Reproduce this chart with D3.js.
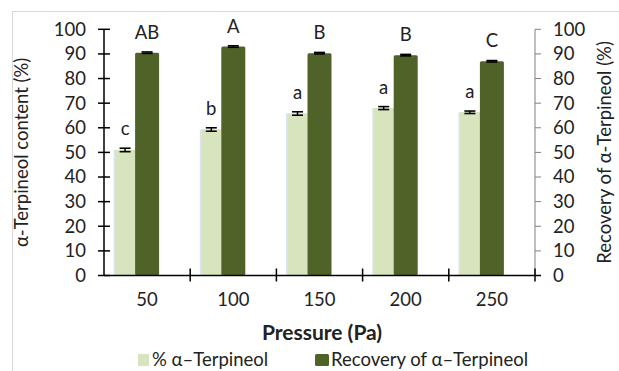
<!DOCTYPE html>
<html><head><meta charset="utf-8">
<script src="https://cdn.jsdelivr.net/npm/d3@7"></script>
<style>body{margin:0;background:#fff}svg{display:block}text{font-family:Lato,"Open Sans",sans-serif}</style>
</head><body><svg id="c" width="619" height="371"></svg>
<script>
const categories = ["50","100","150","200","250"];
const terpineol = [51, 59.3, 65.8, 68, 66.3];
const terpineolErr = [0.7, 0.7, 0.7, 0.6, 0.5];
const terpineolLetters = ["c","b","a","a","a"];
const recovery = [90.5, 93, 90.3, 89.5, 87];
const recoveryErr = [0.3, 0.3, 0.3, 0.3, 0.3];
const recoveryLetters = ["AB","A","B","B","C"];
const yTicks = [0,10,20,30,40,50,60,70,80,90,100];
const seriesNames = ["% α–Terpineol","Recovery of α–Terpineol"];

const svg = d3.select("#c");
const L=104, R=535, T=29.3, B=275.5;
const x = d3.scaleBand().domain(categories).range([L,R]).paddingInner(0).paddingOuter(0);
const y = d3.scaleLinear().domain([0,100]).range([B,T]);
const light="#d7e4bd", dark="#4f6228";
const FS=18.5;

svg.append("rect").attr("x",12.5).attr("y",11.5).attr("width",700).attr("height",500)
  .attr("fill","none").attr("stroke","#d9d9d9").attr("stroke-width",1);

const cx = c => x(c)+x.bandwidth()/2;

const gl = svg.append("g");
categories.forEach((c,i)=>{
  const x0=cx(c)-32, w=20;
  gl.append("rect").attr("x",x0-1.5).attr("y",y(terpineol[i])).attr("width",w+1.5)
    .attr("height",B-y(terpineol[i])).attr("fill","#dbe5f1");
  gl.append("rect").attr("x",x0).attr("y",y(terpineol[i])).attr("width",w)
    .attr("height",B-y(terpineol[i])).attr("fill",light);
  const ex=x0+w/2, y1=y(terpineol[i]+terpineolErr[i]), y2=y(terpineol[i]-terpineolErr[i]);
  gl.append("line").attr("x1",ex).attr("x2",ex).attr("y1",y1).attr("y2",y2).attr("stroke","#000").attr("stroke-width",1.5);
  [y1,y2].forEach(yy=>gl.append("line").attr("x1",ex-5.5).attr("x2",ex+5.5).attr("y1",yy).attr("y2",yy).attr("stroke","#000").attr("stroke-width",1.6));
  gl.append("text").attr("x",ex).attr("y",y1-13).attr("text-anchor","middle").attr("font-size",FS).attr("fill","#222").text(terpineolLetters[i]);
});
const gd = svg.append("g");
categories.forEach((c,i)=>{
  const x0=cx(c)-12, w=24;
  gd.append("rect").attr("x",x0).attr("y",y(recovery[i])).attr("width",w)
    .attr("height",B-y(recovery[i])).attr("fill",dark).attr("rx",1.5);
  const ex=x0+w/2, y1=y(recovery[i]+recoveryErr[i]), y2=y(recovery[i]-recoveryErr[i]);
  gd.append("line").attr("x1",ex).attr("x2",ex).attr("y1",y1).attr("y2",y2).attr("stroke","#000").attr("stroke-width",1.2);
  [y1,y2].forEach(yy=>gd.append("line").attr("x1",ex-5.5).attr("x2",ex+5.5).attr("y1",yy).attr("y2",yy).attr("stroke","#000").attr("stroke-width",1.6));
  gd.append("text").attr("x",ex).attr("y",y(recovery[i])-14).attr("text-anchor","middle").attr("font-size",FS).attr("fill","#222").text(recoveryLetters[i]);
});

const ga = svg.append("g");
ga.append("line").attr("x1",L).attr("x2",L).attr("y1",T).attr("y2",B).attr("stroke","#000").attr("stroke-width",1.5);
yTicks.forEach(t=>{
  ga.append("line").attr("x1",L-6).attr("x2",L+6).attr("y1",y(t)).attr("y2",y(t)).attr("stroke","#000").attr("stroke-width",1.5);
  ga.append("text").attr("x",86).attr("y",y(t)).attr("dy","0.35em").attr("text-anchor","end").attr("font-size",FS).attr("fill","#222").text(t);
});
yTicks.forEach(t=>{
  ga.append("line").attr("x1",R).attr("x2",R+6).attr("y1",y(t)).attr("y2",y(t)).attr("stroke","#808080").attr("stroke-width",1);
  ga.append("text").attr("x",553).attr("y",y(t)).attr("dy","0.35em").attr("text-anchor","start").attr("font-size",FS).attr("fill","#222").text(t);
});
ga.append("line").attr("x1",R).attr("x2",R).attr("y1",T).attr("y2",B).attr("stroke","#808080").attr("stroke-width",1);
ga.append("line").attr("x1",L).attr("x2",R+6).attr("y1",B).attr("y2",B).attr("stroke","#000").attr("stroke-width",1.5);
categories.forEach((c,i)=>{
  const bx = x(c)+x.bandwidth();
  ga.append("line").attr("x1",bx).attr("x2",bx).attr("y1",B-7).attr("y2",B+6).attr("stroke","#000").attr("stroke-width",1.5);
  ga.append("text").attr("x",cx(c)).attr("y",300).attr("dy","0.35em").attr("text-anchor","middle").attr("font-size",FS).attr("fill","#222").text(c);
});

svg.append("text").attr("transform",`translate(22,${(T+B)/2}) rotate(-90)`).attr("dy","0.35em").attr("text-anchor","middle").attr("font-size",FS).attr("fill","#222").text("α-Terpineol content (%)");
svg.append("text").attr("transform",`translate(605,${(T+B)/2}) rotate(-90)`).attr("dy","0.35em").attr("text-anchor","middle").attr("font-size",FS).attr("fill","#222").text("Recovery of α-Terpineol (%)");
svg.append("text").attr("x",322).attr("y",333).attr("dy","0.35em").attr("text-anchor","middle").attr("font-size",21).attr("font-weight","bold").attr("fill","#222").text("Pressure (Pa)");

const lg = svg.append("g");
[[138,light,0],[315,dark,1]].forEach(([lx,col,k])=>{
  lg.append("rect").attr("x",lx).attr("y",354).attr("width",k?14:11).attr("height",12).attr("fill",col).attr("rx",k?1.5:0);
  lg.append("text").attr("x",lx+(k?16:14)).attr("y",360).attr("dy","0.35em").attr("font-size",FS).attr("fill","#222").text(seriesNames[k]);
});
</script></body></html>
